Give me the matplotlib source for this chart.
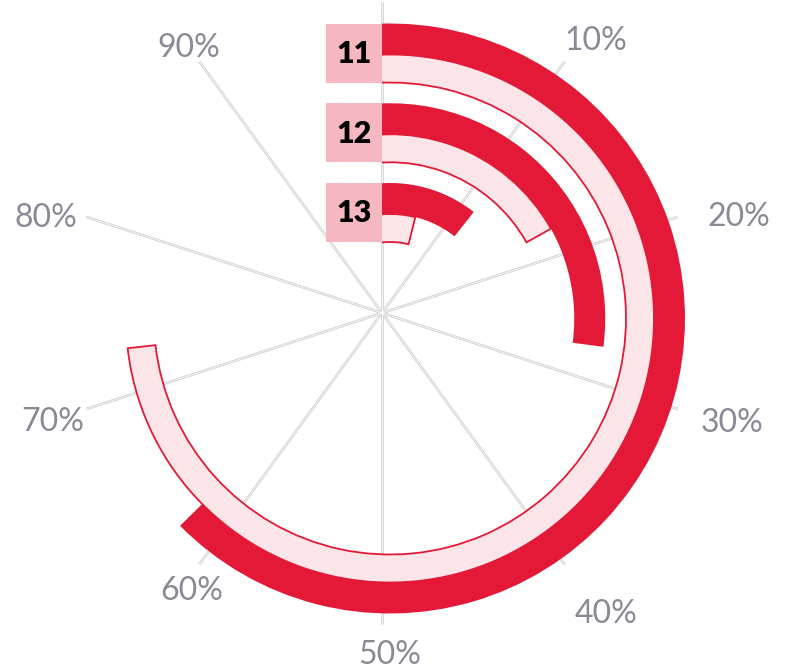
import numpy as np
import matplotlib.pyplot as plt
from matplotlib.patches import Rectangle, Polygon

# data (percent of full circle)
groups = ['11', '12', '13']
solid_pct = [62.6, 27.1, 10.6]
light_pct = [73.2, 16.9, 3.9]
tick_pct = [10, 20, 30, 40, 50, 60, 70, 80, 90]
tick_labels = ['%d%%' % t for t in tick_pct]

# layout: distance of each tick label from the ring centre, in pixels
label_r = [348, 364, 357, 364, 334, 335, 352, 359, 339]

RED = '#e31937'
PINK = '#fce5e9'
BOX = '#f5b7c0'
GREY_TXT = '#8a8995'

W, H = 788, 669
ring_x, ring_y = 390, 318.5     # centre of the rings, pixels from top-left
spoke_x, spoke_y = 382, 313     # spokes meet a bit off the ring centre
R = 360

fig = plt.figure(figsize=(W / 100, H / 100), dpi=100)

# base axes in pixel units (y down) for spokes and the number boxes
base = fig.add_axes([0, 0, 1, 1])
base.set_xlim(0, W)
base.set_ylim(H, 0)
base.set_axis_off()

ax = fig.add_axes([(ring_x - R) / W, (H - ring_y - R) / H, 2 * R / W, 2 * R / H],
                  projection='polar')
ax.set_theta_zero_location('N')
ax.set_theta_direction(-1)
ax.set_ylim(0, R)
ax.set_axis_off()

def to_theta(p):
    return np.asarray(p) * 2 * np.pi / 100

# spokes: thin double grey lines
for t in [0] + tick_pct:
    th = to_theta(t)
    xs = [spoke_x, spoke_x + 311 * np.sin(th)]
    ys = [spoke_y, spoke_y - 311 * np.cos(th)]
    base.plot(xs, ys, color='#d0d0d0', lw=1.9, solid_capstyle='butt', zorder=1)
    base.plot(xs, ys, color='white', lw=0.55, solid_capstyle='butt', zorder=1.1)

# tick labels round the outside, side ones pulled a little toward the horizontal
for t, lab, r in zip(tick_pct, tick_labels, label_r):
    th = to_theta(t)
    th_lab = th + 0.05 * np.sin(2 * th) * np.sin(th) ** 4
    ax.annotate(lab, xy=(th_lab, r), xytext=(0, -2.5), textcoords='offset pixels',
                ha='center', va='center', fontsize=23, color=GREY_TXT,
                family='Lato', annotation_clip=False)

# bars start at the vertical line through the spoke centre
clip = Polygon([(spoke_x, 0), (W, 0), (W, H), (0, H), (0, ring_y), (spoke_x, ring_y)],
               closed=True, transform=base.transData)

start = to_theta(-6)
pitch = 79.75
solid_w = 31
light_w = 28
for i, g in enumerate(groups):
    r_out = 295 - pitch * i
    r_mid = r_out - solid_w
    r_in = r_mid - light_w
    b1 = ax.bar(x=start, width=to_theta(solid_pct[i]) - start, bottom=r_mid, height=solid_w,
                align='edge', color=RED, edgecolor='none', zorder=3)
    b2 = ax.bar(x=start, width=to_theta(light_pct[i]) - start, bottom=r_in, height=light_w,
                align='edge', color=PINK, edgecolor=RED, linewidth=1.3, zorder=2.5)
    for p in list(b1) + list(b2):
        p.set_clip_path(clip)
    top, bot = ring_y - r_out, ring_y - r_in
    base.add_patch(Rectangle((spoke_x - 56, top), 56, bot - top, facecolor=BOX,
                             edgecolor='none', zorder=3))
    base.text(spoke_x - 28, (top + bot) / 2 + 1, g, ha='center', va='center',
              fontsize=22, fontweight='heavy', family='Lato', color='black', zorder=4)

fig.savefig('out.png', dpi=100)
